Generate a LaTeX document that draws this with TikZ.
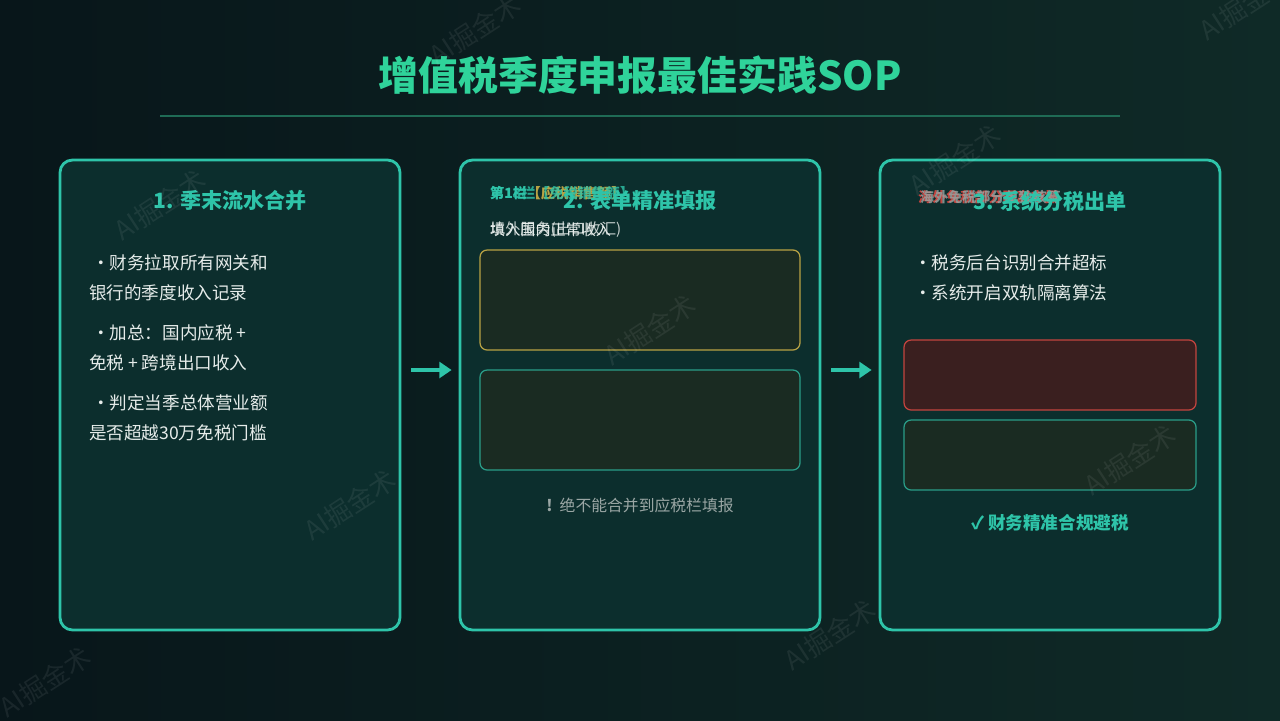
\documentclass[tikz,border=0pt]{standalone}
\usepackage{fontspec}
\setmainfont{Noto Sans CJK SC}
\usetikzlibrary{arrows.meta}

\definecolor{bgleft}{HTML}{08161A}
\definecolor{bgright}{HTML}{0F2A27}
\definecolor{titlegreen}{HTML}{2FD39A}
\definecolor{accent}{HTML}{2EC4A9}
\definecolor{panelfill}{HTML}{0C2E2D}
\definecolor{boxfill}{HTML}{1A2B22}
\definecolor{warnfill}{HTML}{3A1F1F}
\definecolor{gold}{HTML}{B9A244}
\definecolor{warnred}{HTML}{C4443F}
\definecolor{softteal}{HTML}{2A9D88}
\definecolor{textwhite}{HTML}{E6ECEA}
\definecolor{mutedgrey}{HTML}{9AA6A4}
\definecolor{ruleline}{HTML}{1F6B55}

\begin{document}
\begin{tikzpicture}[x=0.02cm, y=-0.02cm, >={Triangle[length=7pt, width=9pt]},
  panel/.style={draw=accent, line width=1.6pt, fill=panelfill, rounded corners=7pt,
    minimum width=6.8cm, minimum height=9.4cm},
  inbox/.style={line width=0.7pt, fill=boxfill, rounded corners=4pt,
    minimum width=6.4cm, minimum height=2cm},
  phasetitle/.style={text=accent, font=\bfseries\fontsize{12}{14}\selectfont},
  bullet/.style={anchor=west, text=textwhite, font=\fontsize{10}{12}\selectfont},
  smalltag/.style={anchor=west, font=\bfseries\fontsize{8}{10}\selectfont},
  watermark/.style={text=white, opacity=0.07, rotate=33, font=\fontsize{15}{18}\selectfont}]
  \useasboundingbox (0,0) rectangle (1280,720);
  \shade[left color=bgleft, right color=bgright] (0,0) rectangle (1280,720);

  % title
  \node[text=titlegreen, font=\bfseries\fontsize{22.7}{26}\selectfont] (title) at (640,75) {增值税季度申报最佳实践SOP};
  \draw[ruleline, line width=1.2pt] (160,116) -- (1120,116);

  % three phases
  \node[panel] (p1) at (230,395) {};
  \node[panel, minimum width=7.2cm] (p2) at (640,395) {};
  \node[panel] (p3) at (1050,395) {};
  \draw[->, accent, line width=2.2pt, shorten <=0.2cm, shorten >=0.14cm] ([yshift=0.5cm]p1.east) -- ([yshift=0.5cm]p2.west);
  \draw[->, accent, line width=2.2pt, shorten <=0.2cm, shorten >=0.14cm] ([yshift=0.5cm]p2.east) -- ([yshift=0.5cm]p3.west);

  % phase 1
  \node[phasetitle] (t1) at (230,201) {1. 季末流水合并};
  \node[bullet] (b1a) at (86,263) {・财务拉取所有网关和};
  \node[bullet] (b1b) at (83,293) {银行的季度收入记录};
  \node[bullet] (b1c) at (86,333) {・加总：国内应税 +};
  \node[bullet] (b1d) at (83,363) {免税 + 跨境出口收入};
  \node[bullet] (b1e) at (86,403) {・判定当季总体营业额};
  \node[bullet] (b1f) at (83,433) {是否超越30万免税门槛};

  % phase 2
  \node[smalltag, text=accent] (f1) at (484,193) {第1栏\textcolor{gold}{【应税销售额】}};
  \node[smalltag, text=accent, opacity=0.8] (f2) at (484,193) {第13栏【免税销售额】};
  \node[phasetitle] (t2) at (640,201) {2. 表单精准填报};
  \node[bullet, font=\fontsize{8.6}{10}\selectfont] (g1) at (484,230) {填入国内正常收入};
  \node[bullet, font=\fontsize{8.6}{10}\selectfont, opacity=0.85] (g2) at (484,230) {境外服务(出口收汇)};
  \node[inbox, draw=gold] (box1) at (640,300) {};
  \node[inbox, draw=softteal] (box2) at (640,420) {};
  \node[text=mutedgrey, font=\fontsize{9}{11}\selectfont] (warn) at (640,505) {\textbf{!}\ \ 绝不能合并到应税栏填报};

  % phase 3
  \node[smalltag, text=warnred] (h1) at (912,197) {海外免税部分隔离申报};
  \node[smalltag, text=mutedgrey, opacity=0.8] (h2) at (914,197) {海外免税部分单独核算};
  \node[phasetitle] (t3) at (1050,201) {3. 系统分税出单};
  \node[bullet] (b3a) at (908,263) {・税务后台识别合并超标};
  \node[bullet] (b3b) at (908,293) {・系统开启双轨隔离算法};
  \node[inbox, draw=warnred, fill=warnfill, minimum width=5.84cm, minimum height=1.4cm] (box3) at (1050,375) {};
  \node[inbox, draw=softteal, minimum width=5.84cm, minimum height=1.4cm] (box4) at (1050,455) {};
  \node[phasetitle, font=\bfseries\fontsize{10}{12}\selectfont] (ok) at (1050,523) {✓ 财务精准合规避税};

  % watermarks
  \foreach \wx/\wy in {475/30, 160/205, 650/330, 350/505, 955/160, 1130/460, 830/635, 45/682, 1245/5}
    \node[watermark] at (\wx,\wy) {AI掘金术};
\end{tikzpicture}
\end{document}
